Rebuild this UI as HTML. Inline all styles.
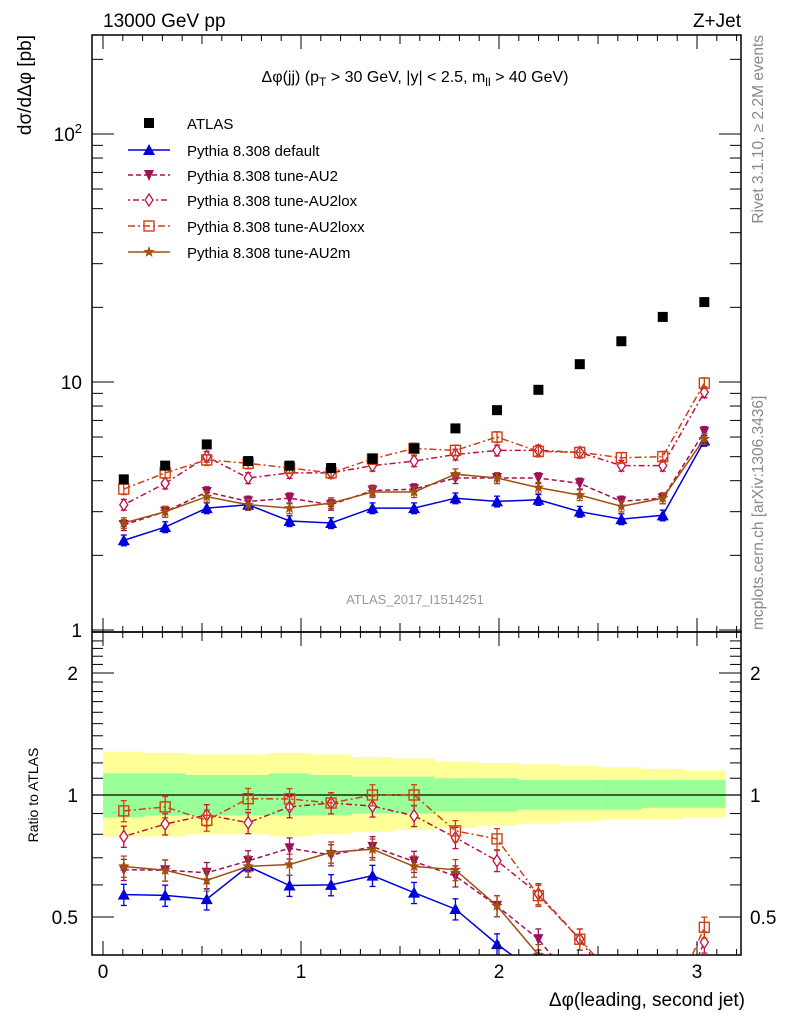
<!DOCTYPE html>
<html><head><meta charset="utf-8">
<style>
html,body{margin:0;padding:0;background:#fff;overflow:hidden;width:786px;height:1024px;}
svg{display:block;font-family:"Liberation Sans",sans-serif;}
</style></head>
<body>
<svg id="chart" width="786" height="1024" viewBox="0 0 786 1024">
<defs>
<clipPath id="clipMain"><rect x="92" y="35" width="649" height="597"/></clipPath>
<clipPath id="clipRatio"><rect x="92" y="632" width="649" height="323"/></clipPath>
</defs>
<g id="bands" clip-path="url(#clipRatio)"></g>
<g id="series-main" clip-path="url(#clipMain)"></g>
<g id="series-ratio" clip-path="url(#clipRatio)"></g>
<g id="axes"></g>
<text x="103" y="27" font-size="19">13000 GeV pp</text>
<text x="741" y="27" font-size="19" text-anchor="end">Z+Jet</text>
<text x="415" y="82" font-size="16" text-anchor="middle">Δφ(jj) (p<tspan dy="4" font-size="12">T</tspan><tspan dy="-4"> &gt; 30 GeV, |y| &lt; 2.5, m</tspan><tspan dy="4" font-size="12">ll</tspan><tspan dy="-4"> &gt; 40 GeV)</tspan></text>
<text x="415" y="604" font-size="13" fill="#999" text-anchor="middle">ATLAS_2017_I1514251</text>
<text transform="translate(763,35) rotate(-90)" font-size="15.5" fill="#888" text-anchor="end">Rivet 3.1.10, ≥ 2.2M events</text>
<text transform="translate(763,630) rotate(-90)" font-size="15.5" fill="#888">mcplots.cern.ch [arXiv:1306.3436]</text>
<text transform="translate(31,35) rotate(-90)" font-size="19" text-anchor="end">dσ/dΔφ [pb]</text>
<text transform="translate(38,795) rotate(-90)" font-size="14" text-anchor="middle">Ratio to ATLAS</text>
<text x="745" y="1006" font-size="19" text-anchor="end">Δφ(leading, second jet)</text>
<g id="legend"></g>
</svg>
<script>
const xCenters=[0.105,0.314,0.524,0.733,0.942,1.152,1.361,1.571,1.780,1.990,2.199,2.408,2.618,2.827,3.037];
const atlas=[4.05,4.6,5.6,4.8,4.6,4.5,4.9,5.4,6.5,7.7,9.3,11.8,14.6,18.3,21.0];
const pyDefault=[2.3,2.6,3.1,3.2,2.75,2.7,3.1,3.1,3.4,3.3,3.35,3.0,2.8,2.9,5.8];
const pyAU2=[2.65,3.0,3.6,3.3,3.4,3.2,3.65,3.7,4.1,4.1,4.1,3.9,3.3,3.4,6.3];
const pyAU2lox=[3.2,3.9,5.0,4.1,4.3,4.3,4.6,4.8,5.1,5.3,5.3,5.2,4.6,4.6,9.1];
const pyAU2loxx=[3.7,4.3,4.85,4.7,4.5,4.3,4.9,5.4,5.3,6.0,5.25,5.2,4.95,5.0,9.9];
const pyAU2m=[2.7,3.0,3.45,3.2,3.1,3.25,3.6,3.6,4.25,4.1,3.75,3.5,3.15,3.4,5.9];
const greenHi=[1.13,1.13,1.12,1.12,1.13,1.12,1.11,1.11,1.10,1.10,1.09,1.09,1.09,1.09,1.09];
const greenLo=[0.88,0.89,0.89,0.89,0.89,0.89,0.90,0.90,0.91,0.91,0.92,0.92,0.92,0.93,0.93];
const yellowHi=[1.28,1.27,1.26,1.26,1.27,1.26,1.24,1.23,1.21,1.20,1.19,1.18,1.17,1.16,1.15];
const yellowLo=[0.79,0.79,0.80,0.80,0.79,0.80,0.81,0.82,0.83,0.84,0.85,0.86,0.87,0.87,0.88];
const xTicks=[0,1,2,3];
const ratioTicks=[0.5,1,2];

const NS="http://www.w3.org/2000/svg";
const X0=103,XS=198,BW=0.2094;
const xp=v=>X0+v*XS;
const yp=v=>382-(Math.log10(v)-1)*248;
const rp=v=>795-Math.log2(v)*122;
function mk(tag,attrs,parent){const e=document.createElementNS(NS,tag);for(const k in attrs)e.setAttribute(k,attrs[k]);parent.appendChild(e);return e;}
const axes=document.getElementById('axes');
const bands=document.getElementById('bands');
const gMain=document.getElementById('series-main');
const gRatio=document.getElementById('series-ratio');
const leg=document.getElementById('legend');

for(let i=0;i<xCenters.length;i++){
  const x1=xp(xCenters[i]-BW/2),w=BW*XS+0.5;
  const yb=mk('rect',{x:x1,y:rp(yellowHi[i]),width:w,height:rp(yellowLo[i])-rp(yellowHi[i]),fill:'#ffff99'},bands);
  
  
  const gb=mk('rect',{x:x1,y:rp(greenHi[i]),width:w,height:rp(greenLo[i])-rp(greenHi[i]),fill:'#99ff99'},bands);
  
  
}
const one=mk('line',{x1:92,x2:741,y1:rp(1),y2:rp(1),stroke:'#000','stroke-width':1.2},bands);



const f1=mk('rect',{x:92,y:35,width:649,height:597,fill:'none',stroke:'#000','stroke-width':1.5},axes);


const f2=mk('rect',{x:92,y:632,width:649,height:323,fill:'none',stroke:'#000','stroke-width':1.5},axes);



for(let d=0;d<=2;d++){
  for(let m=1;m<=9;m++){
    const v=m*Math.pow(10,d);const y=yp(v);
    if(y<35||y>632)continue;
    const L=m===1?22:11;
    mk('line',{x1:92,x2:92+L,y1:y,y2:y,stroke:'#000'},axes);
    mk('line',{x1:741,x2:741-L,y1:y,y2:y,stroke:'#000'},axes);
  }
}
const yl=[[1,'1'],[10,'10']];
yl.forEach(([v,s])=>{const t=mk('text',{x:82,y:yp(v)+7,'font-size':19,'text-anchor':'end'},axes);t.textContent=s;

});
const t100=mk('text',{x:82,y:yp(100)+7,'font-size':19,'text-anchor':'end'},axes);
t100.innerHTML='10<tspan dy="-8" font-size="13">2</tspan>';



for(let v=0.5;v<=2.45;v+=0.1){
  const y=rp(v);if(y<632||y>955)continue;
  const major=Math.abs(v-0.5)<1e-6||Math.abs(v-1)<1e-6||Math.abs(v-2)<1e-6;
  const L=major?22:11;
  mk('line',{x1:92,x2:92+L,y1:y,y2:y,stroke:'#000'},axes);
  mk('line',{x1:741,x2:741-L,y1:y,y2:y,stroke:'#000'},axes);
}
ratioTicks.forEach(v=>{
  const a=mk('text',{x:78,y:rp(v)+7,'font-size':19,'text-anchor':'end'},axes);a.textContent=String(v);
  
  
  const b=mk('text',{x:750,y:rp(v)+7,'font-size':19},axes);b.textContent=String(v);
  
  
});

for(let k=0;k<=32;k++){
  const v=k*0.1;const x=xp(v);if(x>741)continue;
  const major=k%10===0;const mid=k%5===0;
  const L=major?14:(mid?9:6);
  [[632,-1],[955,-1],[35,1],[632,1]].forEach(([y,s])=>mk('line',{x1:x,x2:x,y1:y,y2:y+s*L,stroke:'#000'},axes));
}
xTicks.forEach(v=>{const t=mk('text',{x:xp(v),y:978,'font-size':19,'text-anchor':'middle'},axes);t.textContent=String(v);

});

function marker(type,x,y,c,g,s){
  s=s||1;
  if(type==='square') return mk('rect',{x:x-5,y:y-5,width:10,height:10,fill:'#000'},g);
  if(type==='tri') return mk('polygon',{points:`${x},${y-6*s} ${x-6*s},${y+5*s} ${x+6*s},${y+5*s}`,fill:c},g);
  if(type==='dtri') return mk('polygon',{points:`${x},${y+6*s} ${x-5*s},${y-5*s} ${x+5*s},${y-5*s}`,fill:c},g);
  if(type==='diamond') return mk('polygon',{points:`${x},${y-6} ${x+4},${y} ${x},${y+6} ${x-4},${y}`,fill:'#fff',stroke:c,'stroke-width':1.3},g);
  if(type==='osq') return mk('rect',{x:x-5,y:y-5,width:10,height:10,fill:'none',stroke:c,'stroke-width':1.4},g);
  if(type==='star'){let p=[];for(let i=0;i<10;i++){const r=i%2?2.5:6;const a=-Math.PI/2+i*Math.PI/5;p.push((x+r*Math.cos(a)).toFixed(1)+','+(y+r*Math.sin(a)).toFixed(1));}
    return mk('polygon',{points:p.join(' '),fill:c},g);}
}
const series=[
 {name:'pythia-default',label:'Pythia 8.308 default',data:pyDefault,c:'#0000dd',dash:'',m:'tri'},
 {name:'pythia-au2',label:'Pythia 8.308 tune-AU2',data:pyAU2,c:'#a0105a',dash:'5,3',m:'dtri'},
 {name:'pythia-au2lox',label:'Pythia 8.308 tune-AU2lox',data:pyAU2lox,c:'#c01040',dash:'2,3,6,3',m:'diamond'},
 {name:'pythia-au2loxx',label:'Pythia 8.308 tune-AU2loxx',data:pyAU2loxx,c:'#d04010',dash:'7,3,2,3',m:'osq'},
 {name:'pythia-au2m',label:'Pythia 8.308 tune-AU2m',data:pyAU2m,c:'#a05010',dash:'',m:'star'}
];
series.forEach(s=>{
  const pts=s.data.map((v,i)=>xp(xCenters[i]).toFixed(1)+','+yp(v).toFixed(1)).join(' ');
  const pl=mk('polyline',{points:pts,fill:'none',stroke:s.c,'stroke-width':1.5,'stroke-dasharray':s.dash},gMain);
  
  
  const rpts=s.data.map((v,i)=>xp(xCenters[i]).toFixed(1)+','+rp(v/atlas[i]).toFixed(1)).join(' ');
  const rl=mk('polyline',{points:rpts,fill:'none',stroke:s.c,'stroke-width':1.5,'stroke-dasharray':s.dash},gRatio);
  
  
  s.data.forEach((v,i)=>{
    const x=xp(xCenters[i]);
    [[gMain,yp(v),yp(v*1.05),yp(v*0.95)],[gRatio,rp(v/atlas[i]),rp(v/atlas[i]*1.06),rp(v/atlas[i]*0.94)]].forEach(([g,y,yh,yl2])=>{
      mk('line',{x1:x,x2:x,y1:yh,y2:yl2,stroke:s.c,'stroke-width':1.3},g);
      mk('line',{x1:x-3,x2:x+3,y1:yh,y2:yh,stroke:s.c,'stroke-width':1.3},g);
      mk('line',{x1:x-3,x2:x+3,y1:yl2,y2:yl2,stroke:s.c,'stroke-width':1.3},g);
      const mm=marker(s.m,x,y,s.c,g);
      
      
    });
  });
});
atlas.forEach((v,i)=>{
  const m=marker('square',xp(xCenters[i]),yp(v),'#000',gMain);
  
  
});

const rows=[{label:'ATLAS',m:'square',c:'#000',dash:null}].concat(series);
const ly=[123,150,175,200,226,252];
rows.forEach((r,i)=>{
  const g=mk('g',{},leg);
  
  
  const y=ly[i];
  if(r.dash!==null){mk('line',{x1:128,x2:170,y1:y,y2:y,stroke:r.c,'stroke-width':1.5,'stroke-dasharray':r.dash},g);}
  marker(r.m,149,y,r.c,g);
  const t=mk('text',{x:187,y:y+6,'font-size':15},g);t.textContent=r.label;
});
</script>
</body></html>
